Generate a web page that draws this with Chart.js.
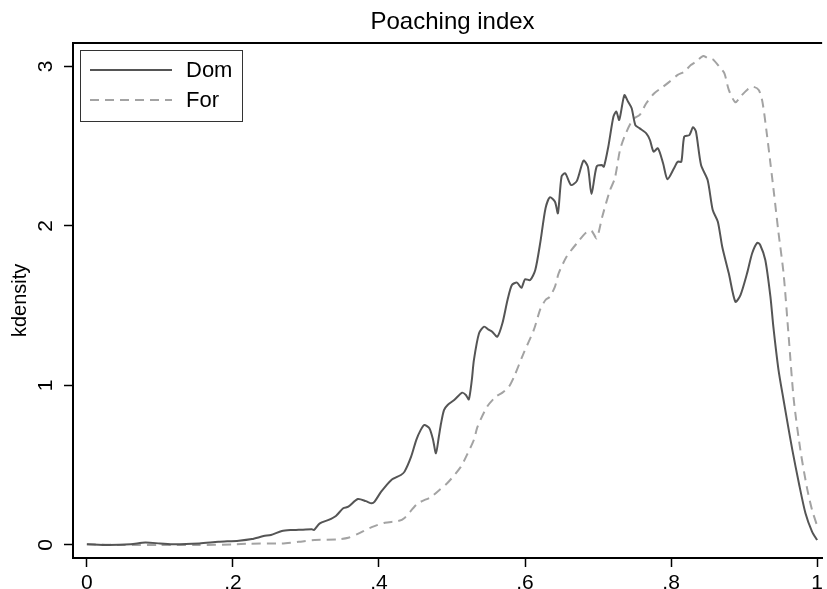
<!DOCTYPE html>
<html><head><meta charset="utf-8">
<script src="https://cdn.jsdelivr.net/npm/chart.js@4.4.0/dist/chart.umd.min.js"></script>
<style>html,body{margin:0;padding:0;background:#fff;}</style>
</head><body>
<canvas id="c" width="827" height="589"></canvas>
<script>
const chartTitle = 'Poaching index';
const yTitle = 'kdensity';
const seriesNames = ['Dom', 'For'];
const xTickValues = [0, 0.2, 0.4, 0.6, 0.8, 1];
const xTickLabels = ['0', '.2', '.4', '.6', '.8', '1'];
const yTickValues = [0, 1, 2, 3];
const yTickLabels = ['0', '1', '2', '3'];

const domX = [0.000,0.03,0.06,0.08,0.10,0.12,0.154,0.18,0.208,0.226,0.242,0.252,0.267,0.28,0.29,0.308,0.311,0.319,0.331,0.341,0.351,0.358,0.371,0.382,0.39,0.394,0.403,0.417,0.43,0.435,0.444,0.451,0.457,0.462,0.469,0.474,0.478,0.482,0.485,0.489,0.494,0.503,0.514,0.519,0.523,0.527,0.53,0.537,0.544,0.55,0.555,0.562,0.569,0.576,0.582,0.589,0.595,0.6,0.607,0.614,0.621,0.628,0.634,0.641,0.645,0.65,0.655,0.663,0.671,0.68,0.686,0.691,0.698,0.705,0.708,0.714,0.721,0.725,0.729,0.736,0.741,0.746,0.751,0.757,0.766,0.771,0.776,0.782,0.789,0.795,0.804,0.809,0.814,0.818,0.825,0.83,0.834,0.841,0.85,0.857,0.864,0.87,0.879,0.888,0.895,0.904,0.911,0.918,0.922,0.929,0.936,0.94,0.947,0.954,0.96,0.966,0.975,0.984,0.993,1.0];
const domY = [0.005,0.0,0.005,0.015,0.01,0.005,0.01,0.02,0.027,0.037,0.056,0.063,0.088,0.094,0.095,0.098,0.094,0.136,0.157,0.182,0.23,0.24,0.288,0.275,0.261,0.272,0.334,0.408,0.439,0.46,0.554,0.658,0.72,0.752,0.732,0.66,0.575,0.68,0.763,0.846,0.878,0.909,0.955,0.94,0.913,1.03,1.16,1.327,1.369,1.35,1.337,1.306,1.39,1.536,1.63,1.645,1.612,1.666,1.661,1.724,1.9,2.11,2.18,2.152,2.08,2.31,2.33,2.257,2.283,2.41,2.372,2.2,2.372,2.382,2.372,2.497,2.685,2.717,2.665,2.82,2.78,2.738,2.633,2.612,2.581,2.539,2.466,2.487,2.393,2.293,2.362,2.403,2.403,2.56,2.57,2.619,2.592,2.382,2.288,2.1,2.027,1.87,1.703,1.525,1.567,1.703,1.829,1.895,1.881,1.787,1.557,1.369,1.1,0.909,0.75,0.596,0.387,0.199,0.084,0.031];

const forX = [0,0.05,0.1,0.15,0.2,0.222,0.267,0.29,0.312,0.344,0.358,0.371,0.39,0.408,0.426,0.435,0.453,0.471,0.48,0.494,0.512,0.521,0.53,0.535,0.548,0.56,0.569,0.578,0.585,0.598,0.612,0.621,0.628,0.634,0.641,0.646,0.657,0.671,0.684,0.691,0.698,0.706,0.716,0.723,0.73,0.737,0.748,0.757,0.766,0.777,0.789,0.798,0.809,0.818,0.827,0.834,0.844,0.85,0.857,0.866,0.873,0.879,0.888,0.895,0.904,0.912,0.92,0.925,0.931,0.936,0.941,0.947,0.954,0.961,0.968,0.977,0.986,0.993,1.0];
const forY = [0.005,0.0,0.0,0.0,0.003,0.008,0.01,0.02,0.031,0.035,0.045,0.07,0.112,0.14,0.15,0.17,0.26,0.3,0.334,0.39,0.49,0.57,0.66,0.742,0.867,0.93,0.955,0.993,1.055,1.202,1.348,1.48,1.536,1.557,1.62,1.703,1.808,1.892,1.96,1.97,1.923,2.063,2.22,2.3,2.476,2.57,2.67,2.696,2.769,2.832,2.873,2.905,2.947,2.967,3.009,3.03,3.066,3.052,3.045,2.999,2.957,2.853,2.775,2.811,2.853,2.873,2.853,2.78,2.581,2.393,2.2,1.96,1.703,1.306,0.909,0.596,0.36,0.22,0.12];

const FONT = '"Liberation Sans", Arial, Helvetica, sans-serif';

const framePlugin = {
  id: 'frameAndLegend',
  afterDraw(chart) {
    const ctx = chart.ctx, ca = chart.chartArea;
    ctx.save();
    // title, centred over the full (cropped) plot region
    ctx.fillStyle = '#000'; ctx.font = '24px ' + FONT;
    ctx.textAlign = 'center'; ctx.textBaseline = 'middle';
    ctx.fillText(chartTitle, (ca.left + ca.right + 10) / 2, 22);
    // top border of plot region
    ctx.strokeStyle = '#000'; ctx.lineWidth = 2;
    ctx.beginPath(); ctx.moveTo(ca.left, Math.round(ca.top)); ctx.lineTo(ca.right, Math.round(ca.top)); ctx.stroke();
    // legend box
    const bx = ca.left + 7, by = Math.round(ca.top) + 7, bw = 162, bh = 71;
    ctx.fillStyle = '#fff'; ctx.fillRect(bx, by, bw, bh);
    ctx.strokeStyle = '#333'; ctx.lineWidth = 1; ctx.strokeRect(bx + 0.5, by + 0.5, bw, bh);
    chart.data.datasets.forEach((ds, i) => {
      const y = by + 20 + i * 30;
      ctx.beginPath();
      ctx.setLineDash(ds.borderDash || []);
      ctx.strokeStyle = ds.borderColor; ctx.lineWidth = ds.borderWidth;
      ctx.moveTo(bx + 10, y); ctx.lineTo(bx + 92, y); ctx.stroke();
      ctx.setLineDash([]);
      ctx.fillStyle = '#000'; ctx.font = '22px ' + FONT;
      ctx.textBaseline = 'middle'; ctx.textAlign = 'left';
      ctx.fillText(ds.label, bx + 106, y + 1);
    });
    ctx.restore();
  }
};

new Chart(document.getElementById('c'), {
  type: 'line',
  data: {
    datasets: [
      { label: seriesNames[0], data: domX.map((x, i) => ({ x, y: domY[i] })),
        borderColor: '#555555', borderWidth: 2, pointRadius: 0, tension: 0.25, fill: false },
      { label: seriesNames[1], data: forX.map((x, i) => ({ x, y: forY[i] })),
        borderColor: '#a3a3a3', borderWidth: 2, borderDash: [9, 6], pointRadius: 0, tension: 0.25, fill: false }
    ]
  },
  options: {
    responsive: false, animation: false, devicePixelRatio: 1,
    layout: { padding: { top: 42.7, left: 0, right: 0, bottom: 0 } },
    plugins: {
      legend: { display: false }, tooltip: { enabled: false }, title: { display: false }
    },
    scales: {
      x: {
        type: 'linear', min: -0.019, max: 1.0068,
        afterBuildTicks: s => { s.ticks = xTickValues.map(v => ({ value: v })); },
        afterFit: s => { s.height = 31; },
        ticks: { autoSkip: false, maxRotation: 0, minRotation: 0, padding: 4, color: '#000',
          font: { family: FONT, size: 21 },
          callback: v => xTickLabels[xTickValues.indexOf(v)] },
        grid: { display: true, drawOnChartArea: false, drawTicks: true, tickLength: 9, tickWidth: 1.5, tickColor: '#000' },
        border: { display: true, color: '#000', width: 2 }
      },
      y: {
        type: 'linear', min: -0.0815, max: 3.149,
        afterBuildTicks: s => { s.ticks = yTickValues.map(v => ({ value: v })); },
        afterFit: s => { s.width = 73; },
        ticks: { autoSkip: false, minRotation: 90, maxRotation: 90, crossAlign: 'center', padding: 12, color: '#000',
          font: { family: FONT, size: 21 },
          callback: v => yTickLabels[yTickValues.indexOf(v)] },
        grid: { display: true, drawOnChartArea: false, drawTicks: true, tickLength: 9, tickWidth: 1.5, tickColor: '#000' },
        border: { display: true, color: '#000', width: 2 },
        title: { display: true, text: yTitle, color: '#000', font: { family: FONT, size: 20 }, padding: { top: 8, bottom: 0 } }
      }
    }
  },
  plugins: [framePlugin]
});
</script>
</body></html>
